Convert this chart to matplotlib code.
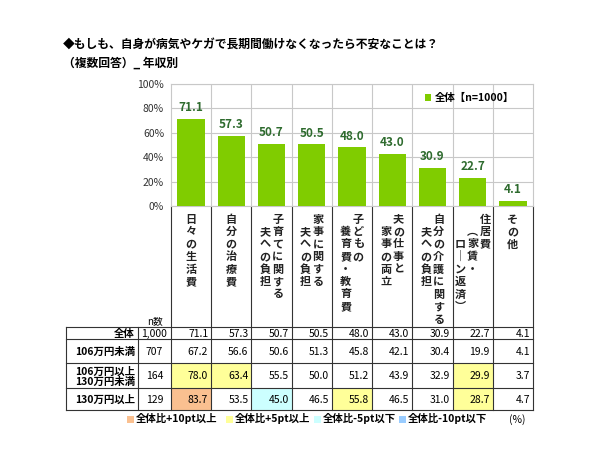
import numpy as np
import matplotlib.pyplot as plt
from matplotlib.patches import Rectangle

plt.rcParams['font.family'] = ['Noto Sans CJK JP', 'DejaVu Sans']

# data
cat_cols = [
    ["日々の生活費"],
    ["自分の治療費"],
    ["子育てに関する", "夫への負担"],
    ["家事に関する", "夫への負担"],
    ["子どもの", "養育費・教育費"],
    ["夫の仕事と", "家事の両立"],
    ["自分の介護に関する", "夫への負担"],
    ["住居費", "（家賃・", "ローン返済）"],
    ["その他"],
]
total = [71.1, 57.3, 50.7, 50.5, 48.0, 43.0, 30.9, 22.7, 4.1]
row_names = ["全体", "106万円未満", "106万円以上\n130万円未満", "130万円以上"]
row_n = [1000, 707, 164, 129]
row_vals = [
    total,
    [67.2, 56.6, 50.6, 51.3, 45.8, 42.1, 30.4, 19.9, 4.1],
    [78.0, 63.4, 55.5, 50.0, 51.2, 43.9, 32.9, 29.9, 3.7],
    [83.7, 53.5, 45.0, 46.5, 55.8, 46.5, 31.0, 28.7, 4.7],
]
hl_names = ["全体比+10pt以上", "全体比+5pt以上", "全体比-5pt以下", "全体比-10pt以下"]
hl_colors = ["#FAC090", "#FFFF99", "#CCFFFF", "#99CCFF"]

W, H = 600, 450
green = "#80CC00"
dkgreen = "#2E6B2E"

fig = plt.figure(figsize=(6, 4.5), dpi=100)
fig.patch.set_facecolor("white")

# pixel canvas for text and table
cv = fig.add_axes([0, 0, 1, 1])
cv.set_xlim(0, W)
cv.set_ylim(H, 0)
cv.axis("off")

# layout (px)
ax_l, ax_r, ax_t, ax_b = 171, 533, 84, 206
ncat = len(total)
cw = (ax_r - ax_l) / ncat

ax = fig.add_axes([ax_l / W, 1 - ax_b / H, (ax_r - ax_l) / W, (ax_b - ax_t) / H])
x = np.arange(ncat)
ax.bar(x, total, width=0.68, color=green, zorder=3, label="全体【n=1000】")
for i, v in enumerate(total):
    ax.text(i, v + 4, f"{v:.1f}", ha="center", va="bottom", color=dkgreen,
            fontsize=8.5, fontweight="bold")
ax.set_xlim(-0.5, ncat - 0.5)
ax.set_ylim(0, 100)
ax.set_yticks(range(0, 101, 20))
ax.set_yticklabels([f"{t}%" for t in range(0, 101, 20)], fontsize=7.5, color="#333333")
ax.set_xticks([])
ax.tick_params(axis="y", length=0, pad=5)
ax.grid(axis="y", color="#C8C8C8", lw=0.8, zorder=0)
for b in np.arange(0.5, ncat - 0.5, 1):
    ax.axvline(b, color="#C8C8C8", lw=0.8, zorder=0)
for s in ax.spines.values():
    s.set_color("#C8C8C8")
    s.set_linewidth(0.8)
ax.legend(loc="upper right", bbox_to_anchor=(0.975, 1.0), frameon=False,
          handlelength=0.6, handleheight=0.6, handletextpad=0.4,
          prop={"size": 7.5, "weight": "bold"})

# title
cv.text(63, 45, "◆もしも、自身が病気やケガで長期間働けなくなったら不安なことは？",
        fontsize=8.5, fontweight="bold", va="center", ha="left")
cv.text(63, 63, "（複数回答）_ 年収別", fontsize=8.5, fontweight="bold",
        va="center", ha="left")

# vertical category labels
vmap = {"ー": "｜", "（": "︵", "）": "︶"}
pitch = 12.5
for i, cols in enumerate(cat_cols):
    cx = ax_l + cw * (i + 0.5)
    k = len(cols)
    for j, col in enumerate(cols):
        xx = cx + (k - 1) / 2 * pitch - j * pitch
        for r, ch in enumerate(col):
            yy = 219 + (r + j) * pitch
            cv.text(xx, yy, vmap.get(ch, ch), ha="center", va="center",
                    fontsize=8, fontweight="bold", color="#222222")

# table
tab_l, lab_r, n_r = 66, 138, ax_l
row_y = [327, 339, 363, 388, 410]
edges = [ax_l + cw * k for k in range(ncat + 1)]
lc = "#333333"
# vertical lines through label area and table
for e in edges:
    cv.plot([e, e], [ax_b, row_y[-1]], color=lc, lw=0.8)
for e in [tab_l, lab_r]:
    cv.plot([e, e], [row_y[0], row_y[-1]], color=lc, lw=0.8)
for yy in row_y:
    cv.plot([tab_l, ax_r], [yy, yy], color=lc, lw=0.8)

cv.text((lab_r + n_r) / 2, 324, "n数", ha="center", va="baseline", fontsize=7)

base = np.array(total)
fs = 7.5
for r, (name, n, vals) in enumerate(zip(row_names, row_n, row_vals)):
    y0, y1 = row_y[r], row_y[r + 1]
    ym = (y0 + y1) / 2
    yb = ym + 3.6
    if "\n" in name:
        cv.text(lab_r - 3, ym + 1, name, ha="right", va="center", fontsize=fs,
                fontweight="bold", linespacing=1.05)
    else:
        cv.text(lab_r - 3, yb, name, ha="right", va="baseline", fontsize=fs,
                fontweight="bold")
    cv.text((lab_r + n_r) / 2, yb, f"{n:,}", ha="center", va="baseline", fontsize=fs)
    for c, v in enumerate(vals):
        if r > 0:
            d = v - base[c]
            col = None
            if d >= 10:
                col = hl_colors[0]
            elif d >= 5:
                col = hl_colors[1]
            elif d <= -10:
                col = hl_colors[3]
            elif d <= -5:
                col = hl_colors[2]
            if col:
                cv.add_patch(Rectangle((edges[c], y0), cw, y1 - y0, facecolor=col,
                                       edgecolor="none", zorder=0))
        cv.text(edges[c + 1] - 3, yb, f"{v:.1f}", ha="right", va="baseline", fontsize=fs)

# bottom legend
leg_x = [127, 226, 314, 399]
for lx, nm, c in zip(leg_x, hl_names, hl_colors):
    cv.add_patch(Rectangle((lx, 415.5), 7, 7, facecolor=c, edgecolor="none"))
    cv.text(lx + 9, 422.5, nm, ha="left", va="baseline", fontsize=7.5, fontweight="bold")
cv.text(509, 422.5, "(%)", ha="left", va="baseline", fontsize=7.5)

fig.savefig("out.png", dpi=100, facecolor="white")
